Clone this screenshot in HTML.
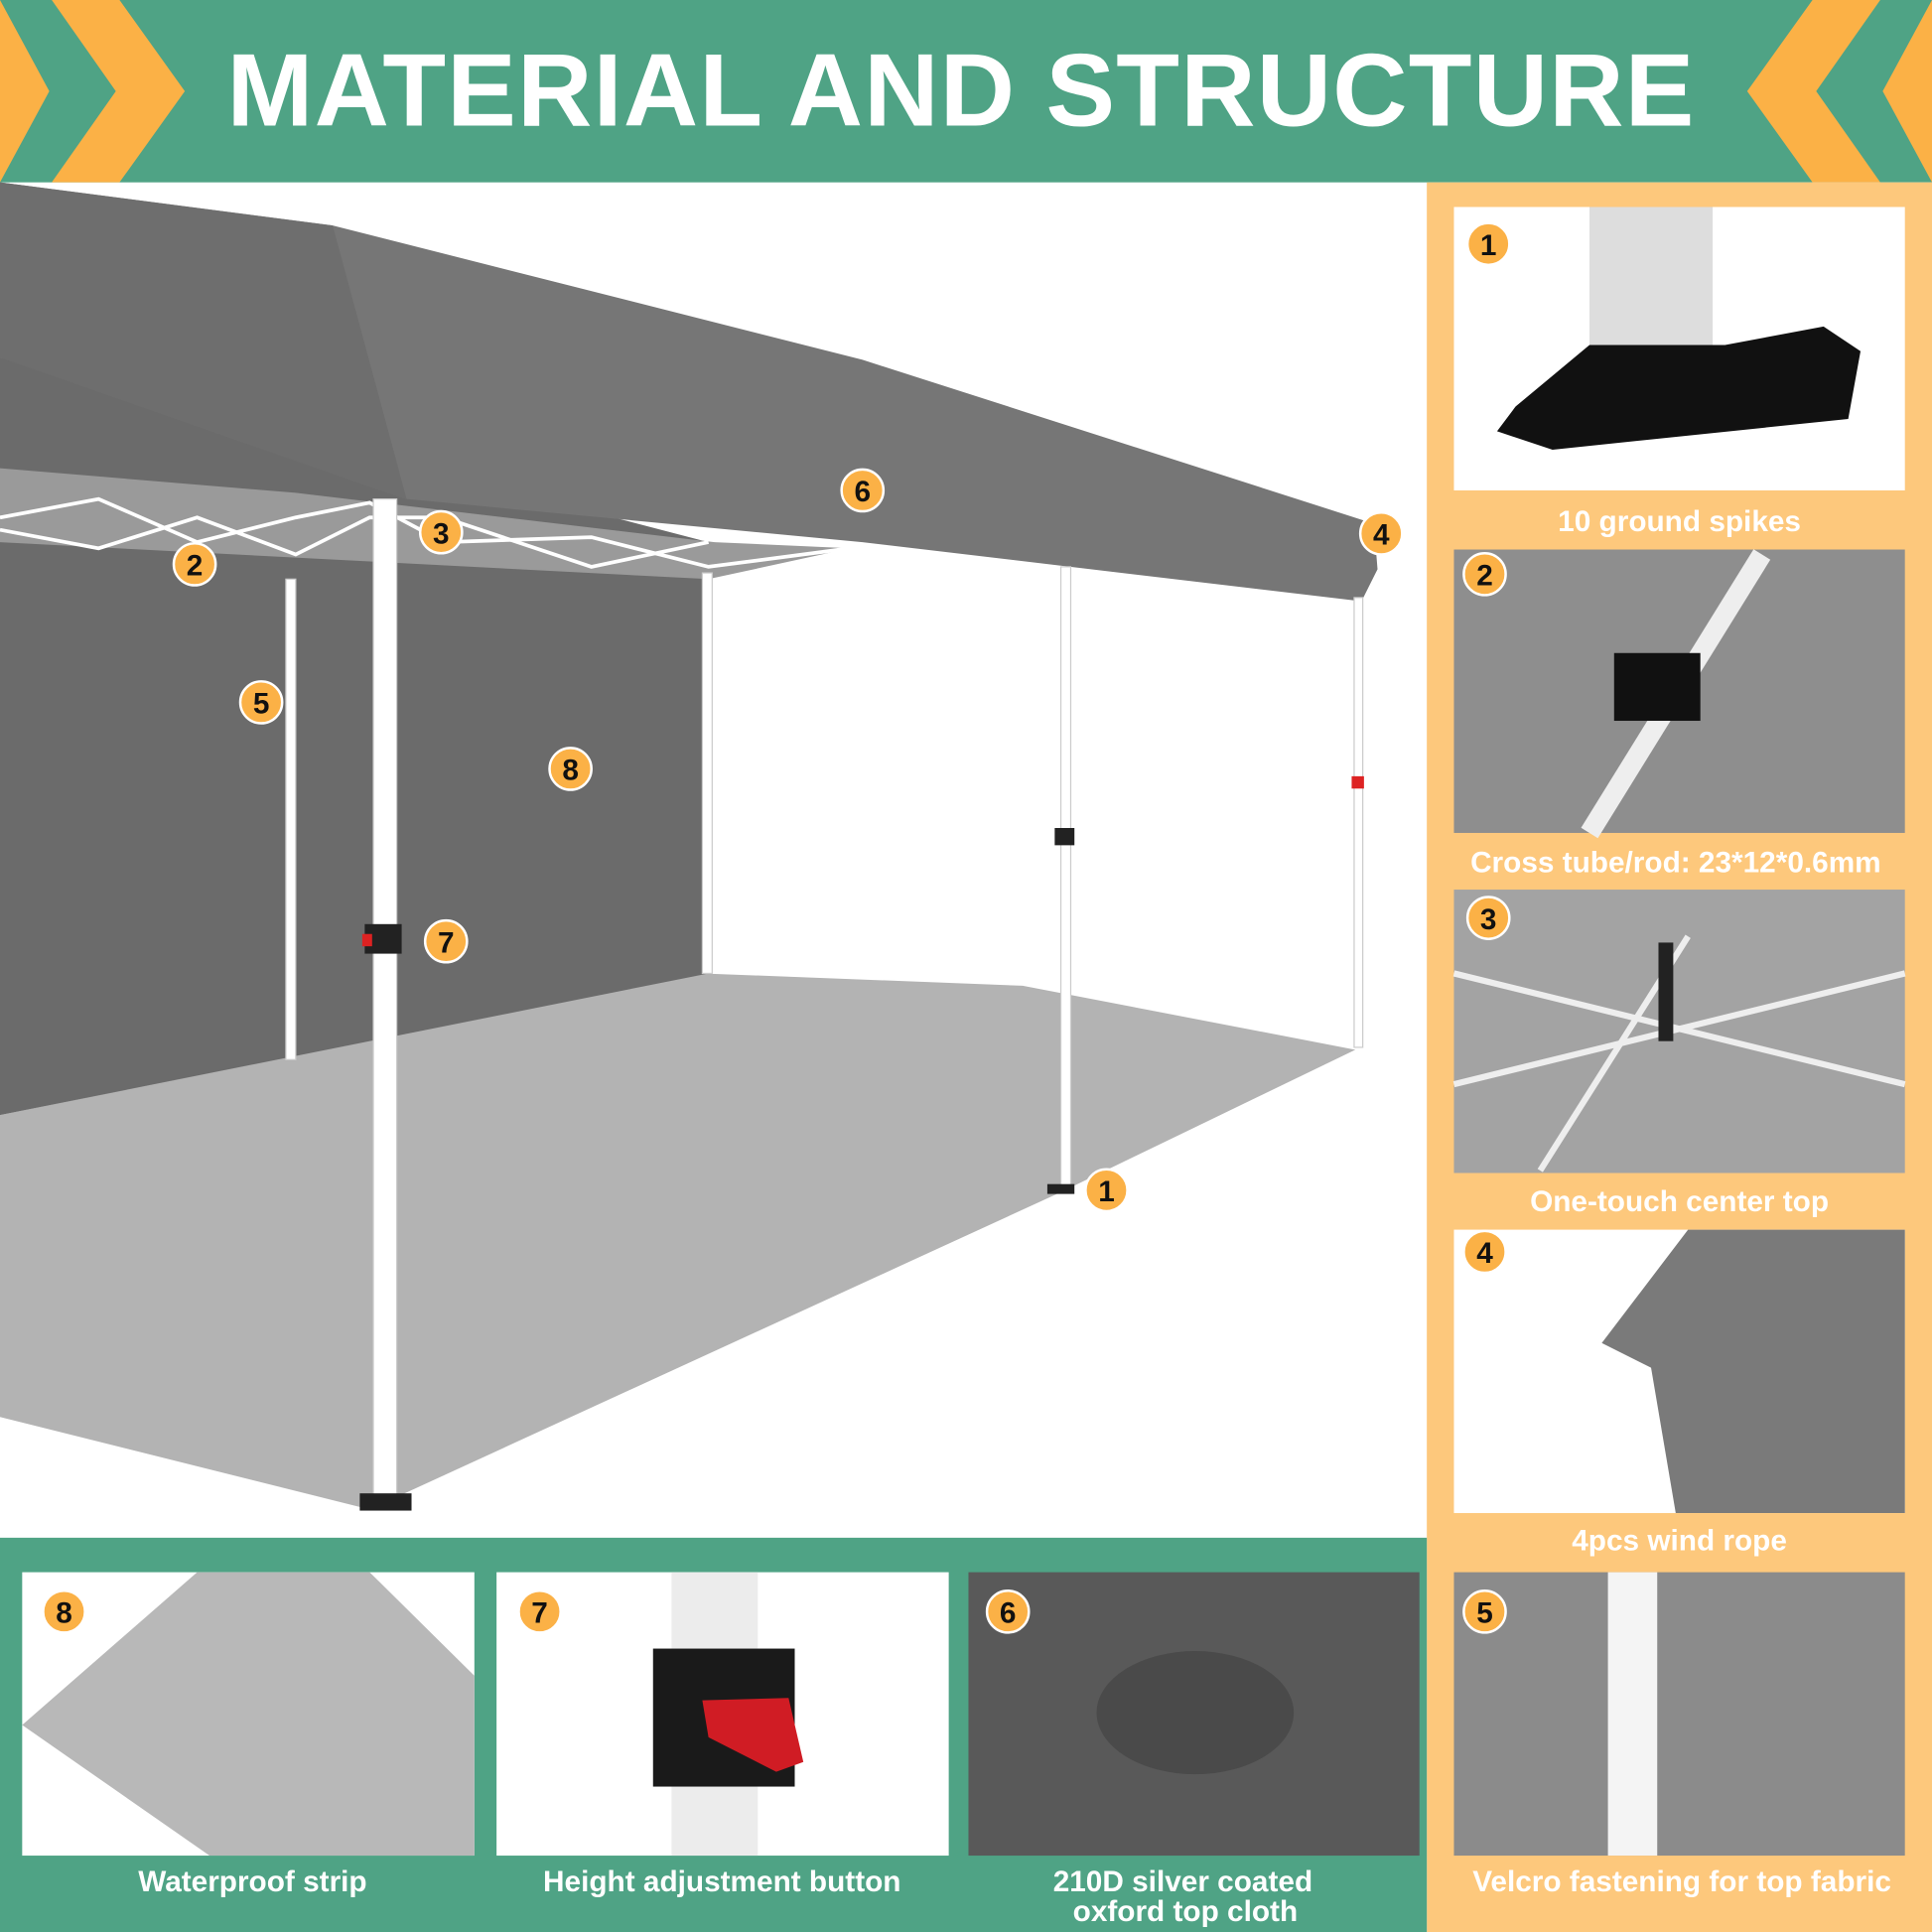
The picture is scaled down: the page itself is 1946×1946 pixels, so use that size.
<!DOCTYPE html>
<html><head><meta charset="utf-8"><style>html,body{margin:0;padding:0;background:#fff}svg{display:block}</style></head><body>
<svg width="1946" height="1946" viewBox="0 0 1568 1568" xmlns="http://www.w3.org/2000/svg" font-family="Liberation Sans, sans-serif">
<rect width="1568" height="1568" fill="#fff"/>
<rect x="0" y="0" width="1568" height="148" fill="#4fa385"/>
<polygon points="-55,0 0,0 40,74 0,148 -55,148 -2,74" fill="#fbb146"/>
<polygon points="42,0 97,0 150,74 97,148 42,148 94,74" fill="#fbb146"/>
<polygon points="1623,0 1568,0 1528,74 1568,148 1623,148 1570,74" fill="#fbb146"/>
<polygon points="1526,0 1471,0 1418,74 1471,148 1526,148 1474,74" fill="#fbb146"/>
<text x="780" y="102" text-anchor="middle" font-size="84" font-weight="bold" fill="#fff" letter-spacing="1">MATERIAL AND STRUCTURE</text>
<polygon points="0,905 570,790 830,800 1100,852 860,968 300,1225 0,1150" fill="#b3b3b3"/>
<polygon points="0,290 575,440 575,790 0,905" fill="#6b6b6b"/>
<polygon points="0,380 240,400 580,440 690,445 575,470 0,440" fill="#9a9a9a"/>
<polygon points="0,148 270,183 700,292 1115,425 1118,462 1105,488 700,440 330,405 300,395 0,290" fill="#767676"/>
<polygon points="0,148 270,183 330,405 300,395 0,290" fill="#6e6e6e"/>
<g stroke="#fff" stroke-width="3" fill="none">
<polyline points="0,420 80,405 160,440 240,420 300,408 360,440 480,436 575,460 690,445"/>
<polyline points="0,430 80,445 160,420 240,450 300,420 360,420 480,460 575,440"/>
</g>
<g fill="#fff" stroke="#ccc" stroke-width="1">
<rect x="303" y="405" width="19" height="815"/>
<rect x="232" y="470" width="8" height="390"/>
<rect x="570" y="465" width="8" height="325"/>
<rect x="861" y="460" width="8" height="505"/>
<rect x="1099" y="485" width="7" height="365"/>
</g>
<rect x="296" y="750" width="30" height="24" fill="#222"/><rect x="294" y="758" width="8" height="10" fill="#d22"/>
<rect x="856" y="672" width="16" height="14" fill="#222"/><rect x="1097" y="630" width="10" height="10" fill="#d22"/>
<rect x="292" y="1212" width="42" height="14" fill="#222"/><rect x="850" y="961" width="22" height="8" fill="#222"/>
<rect x="1158" y="148" width="410" height="1420" fill="#fdc87c"/>
<rect x="1180" y="168" width="366" height="230" fill="#fff"/>
<rect x="1290" y="168" width="100" height="130" fill="#ddd"/>
<polygon points="1230,330 1290,280 1400,280 1480,265 1510,285 1500,340 1260,365 1215,350" fill="#111"/>
<rect x="1180" y="446" width="366" height="230" fill="#8e8e8e"/>
<line x1="1290" y1="676" x2="1430" y2="450" stroke="#eee" stroke-width="16"/>
<rect x="1310" y="530" width="70" height="55" fill="#111"/>
<rect x="1180" y="722" width="366" height="230" fill="#a3a3a3"/>
<g stroke="#eee" stroke-width="5"><line x1="1180" y1="790" x2="1546" y2="880"/><line x1="1180" y1="880" x2="1546" y2="790"/><line x1="1250" y1="950" x2="1370" y2="760"/></g>
<rect x="1346" y="765" width="12" height="80" fill="#222"/>
<rect x="1180" y="998" width="366" height="230" fill="#fff"/>
<polygon points="1370,998 1546,998 1546,1228 1360,1228 1340,1110 1300,1090" fill="#7a7a7a"/>
<rect x="1180" y="1276" width="366" height="230" fill="#8b8b8b"/>
<rect x="1305" y="1276" width="40" height="230" fill="#f4f4f4"/>
<rect x="0" y="1248" width="1158" height="320" fill="#4fa385"/>
<rect x="18" y="1276" width="367" height="230" fill="#fff"/>
<polygon points="18,1400 160,1276 300,1276 385,1360 385,1506 170,1506" fill="#b8b8b8"/>
<rect x="403" y="1276" width="367" height="230" fill="#fff"/>
<rect x="545" y="1276" width="70" height="230" fill="#ececec"/>
<rect x="530" y="1338" width="115" height="112" fill="#1a1a1a"/>
<polygon points="570,1380 640,1378 652,1430 630,1438 575,1410" fill="#d01c24"/>
<rect x="786" y="1276" width="366" height="230" fill="#595959"/>
<ellipse cx="970" cy="1390" rx="80" ry="50" fill="#4a4a4a"/>
<g fill="#fff" font-weight="bold" font-size="24" text-anchor="middle">
<text x="1363" y="431">10 ground spikes</text>
<text x="1360" y="708">Cross tube/rod: 23*12*0.6mm</text>
<text x="1363" y="983">One-touch center top</text>
<text x="1363" y="1258">4pcs wind rope</text>
<text x="1365" y="1535">Velcro fastening for top fabric</text>
<text x="205" y="1535">Waterproof strip</text>
<text x="586" y="1535">Height adjustment button</text>
<text x="960" y="1535">210D silver coated</text>
<text x="962" y="1559">oxford top cloth</text>
</g>
<g font-weight="bold" font-size="24" text-anchor="middle">
<g fill="#fbb146" stroke="#fff" stroke-width="2">
<circle cx="898" cy="966" r="17"/><circle cx="158" cy="458" r="17"/><circle cx="358" cy="432" r="17"/><circle cx="1121" cy="433" r="17"/>
<circle cx="212" cy="570" r="17"/><circle cx="700" cy="398" r="17"/><circle cx="362" cy="764" r="17"/><circle cx="463" cy="624" r="17"/>
<circle cx="1208" cy="198" r="17"/><circle cx="1205" cy="466" r="17"/><circle cx="1208" cy="745" r="17"/><circle cx="1205" cy="1016" r="17"/>
<circle cx="1205" cy="1308" r="17"/><circle cx="52" cy="1308" r="17"/><circle cx="438" cy="1308" r="17"/><circle cx="818" cy="1308" r="17"/>
</g>
<g fill="#111">
<text x="898" y="975">1</text><text x="158" y="467">2</text><text x="358" y="441">3</text><text x="1121" y="442">4</text>
<text x="212" y="579">5</text><text x="700" y="407">6</text><text x="362" y="773">7</text><text x="463" y="633">8</text>
<text x="1208" y="207">1</text><text x="1205" y="475">2</text><text x="1208" y="754">3</text><text x="1205" y="1025">4</text>
<text x="1205" y="1317">5</text><text x="52" y="1317">8</text><text x="438" y="1317">7</text><text x="818" y="1317">6</text>
</g></g>
</svg>
</body></html>
